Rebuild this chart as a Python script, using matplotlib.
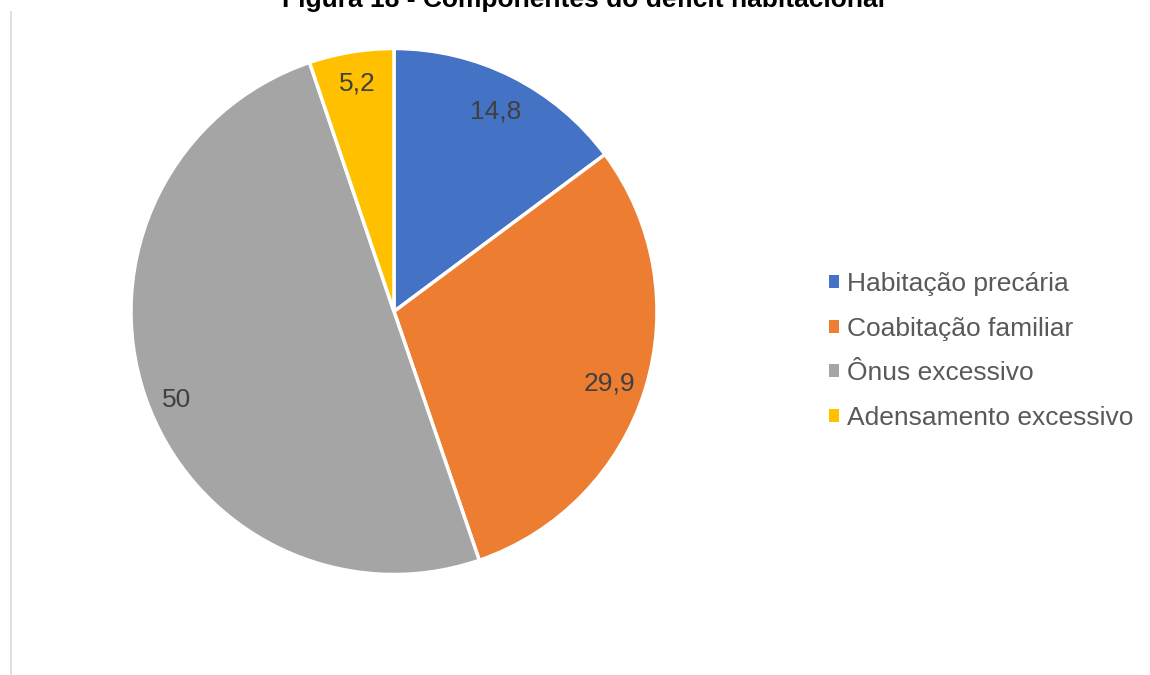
import numpy as np
import matplotlib
matplotlib.use("Agg")
import matplotlib.pyplot as plt
from matplotlib.patches import Rectangle
from matplotlib.lines import Line2D

categories = ["Habitação precária", "Coabitação familiar", "Ônus excessivo", "Adensamento excessivo"]
values = [14.8, 29.9, 50, 5.2]
value_labels = ["14,8", "29,9", "50", "5,2"]
colors = ["#4472C4", "#ED7D31", "#A5A5A5", "#FFC000"]
title = "Figura 18 - Componentes do déficit habitacional"

plt.rcParams["font.family"] = ["Liberation Sans", "DejaVu Sans"]

W, H = 1150, 675
fig = plt.figure(figsize=(W / 100, H / 100), dpi=100)
fig.patch.set_facecolor("white")

# pie axes: centre (394, 311) px, radius 263 px
cx, cy, r = 394, 311.5, 263
ax = fig.add_axes([(cx - r) / W, (H - cy - r) / H, 2 * r / W, 2 * r / H])
wedges, _ = ax.pie(
    values,
    colors=colors,
    startangle=90,
    counterclock=False,
    wedgeprops=dict(edgecolor="white", linewidth=2.5),
)
for w in wedges:
    w.set_clip_on(False)

# value labels placed inside each wedge (best-fit style offsets)
label_radius = [0.86, 0.86, 0.887, 0.888]
label_turn = [0.0, -0.7, 2.7, -0.3]
for w, txt, rad, turn in zip(wedges, value_labels, label_radius, label_turn):
    ang = np.deg2rad((w.theta1 + w.theta2) / 2 + turn)
    ax.text(rad * np.cos(ang), rad * np.sin(ang), txt, ha="center",
            va="center_baseline", fontsize=19, color="#404040")

ax.set_xlim(-1, 1)
ax.set_ylim(-1, 1)
ax.set_aspect("equal")
ax.axis("off")

# legend
handles = [Rectangle((0, 0), 1, 1, facecolor=c, edgecolor="none") for c in colors]
leg = fig.legend(
    handles, categories,
    loc="center left",
    bbox_to_anchor=(829 / W, 1 - 351 / H),
    frameon=False,
    fontsize=19,
    handlelength=0.38,
    handleheight=0.38,
    handletextpad=0.3,
    labelspacing=0.79,
    borderpad=0,
    borderaxespad=0,
)
for t in leg.get_texts():
    t.set_color("#595959")

# title, running off the top edge
fig.text(583 / W, 1 - 7 / H, title, ha="center", va="baseline",
         fontsize=19, fontweight="bold", color="#000000")

# thin frame line on the left
fig.add_artist(Line2D([10.5 / W, 10.5 / W], [0, 1 - 12 / H], color="#D9D9D9", linewidth=1.2))

fig.savefig("out.png", dpi=100)
